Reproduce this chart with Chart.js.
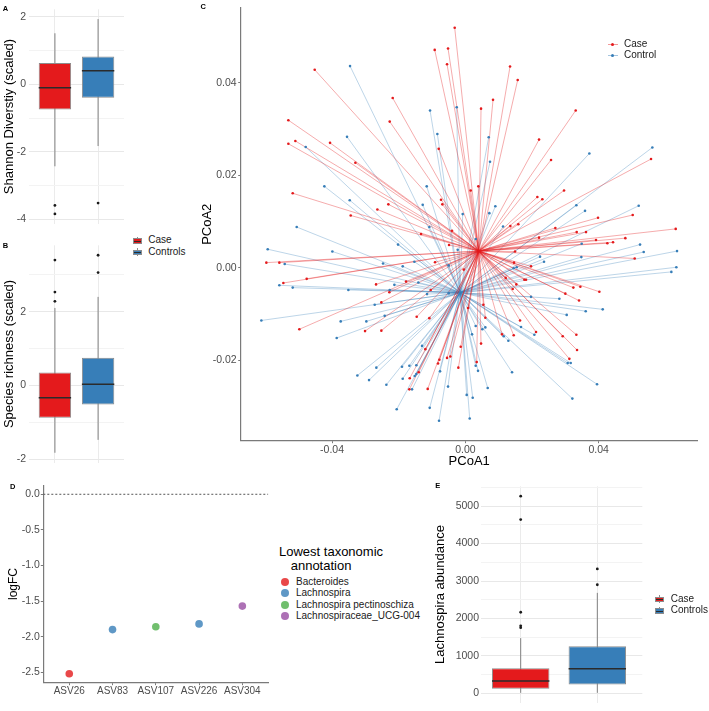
<!DOCTYPE html>
<html>
<head>
<meta charset="utf-8">
<title>Diversity, PCoA and differential abundance</title>
<script src="https://cdn.jsdelivr.net/npm/chart.js@4.4.1/dist/chart.umd.min.js"></script>
<style>
  html, body { margin: 0; padding: 0; background: #fff; }
  #fig { position: relative; width: 709px; height: 711px; overflow: hidden; font-family: "Liberation Sans", Arial, sans-serif; }
  #fig canvas { position: absolute; }
  .tag { position: absolute; font-size: 7.5px; line-height: 7.5px; font-weight: bold; color: #000; }
  .lg { position: absolute; font-size: 10px; line-height: 10px; color: #1a1a1a; white-space: nowrap; }
  .lgt { position: absolute; font-size: 13px; line-height: 13px; color: #000; white-space: nowrap; }
  .k { position: absolute; }
</style>
</head>
<body>
<div id="fig">
  <canvas id="chartA"></canvas>
  <canvas id="chartB"></canvas>
  <canvas id="chartC"></canvas>
  <canvas id="chartD"></canvas>
  <canvas id="chartE"></canvas>
</div>
<script>
// ---- data ----
const groups = ['Case', 'Controls'];
const pcoaGroups = ['Case', 'Control'];

// box stats: [lower whisker, Q1, median, Q3, upper whisker]
const shannonStats = [[-2.43, -0.75, -0.10, 0.63, 1.51], [-1.83, -0.40, 0.40, 0.82, 1.93]];
const shannonOutliers = [[-3.59, -3.84], [-3.52]];
const shannonTicks = [-4, -3, -2, -1, 0, 1, 2];
const shannonLabelled = [-4, -2, 0, 2];

const richnessStats = [[-1.83, -0.88, -0.34, 0.35, 2.10], [-1.48, -0.52, 0.03, 0.75, 2.40]];
const richnessOutliers = [[3.40, 2.53, 2.28], [3.53, 3.06]];
const richnessTicks = [-2, -1, 0, 1, 2, 3];
const richnessLabelled = [-2, 0, 2];

const lachnoStats = [[15, 127, 329, 673, 1476], [15, 235, 658, 1256, 2684]];
const lachnoOutliers = [[5266, 4641, 2167, 1805, 1754], [3324, 2901]];
const lachnoTicks = [0, 500, 1000, 1500, 2000, 2500, 3000, 3500, 4000, 4500, 5000, 5500];
const lachnoLabelled = [0, 1000, 2000, 3000, 4000, 5000];

const asvNames = ['ASV26', 'ASV83', 'ASV107', 'ASV226', 'ASV304'];
const asvLogFC = [-2.52, -1.90, -1.86, -1.82, -1.57];
const asvTaxon = ['Bacteroides', 'Lachnospira', 'Lachnospira pectinoschiza', 'Lachnospira', 'Lachnospiraceae_UCG-004'];
const taxa = ['Bacteroides', 'Lachnospira', 'Lachnospira pectinoschiza', 'Lachnospiraceae_UCG-004'];
const logFCTicks = [-2.5, -2.0, -1.5, -1.0, -0.5, 0.0];
const logFCRef = 0;

const pcoaXTicks = [-0.04, 0, 0.04];
const pcoaYTicks = [-0.02, 0, 0.02, 0.04];
const caseCentroid = [0.0040, 0.0036];
const controlCentroid = [-0.0016, -0.0054];

const casePCoA1 = [-0.0032,-0.0092,-0.0052,-0.0055,-0.0452,-0.0218,-0.0531,-0.0227,-0.0531,-0.0510,-0.0406,-0.0080,
  0.0134,0.0157,0.0083,0.0047,0.0331,0.0221,0.0557,0.0296,0.0216,0.0231,-0.0518,0.0016,0.0039,-0.0073,-0.0330,
  -0.0231,-0.0264,-0.0344,-0.0069,-0.0040,-0.0133,-0.0049,-0.0597,-0.0558,-0.0091,-0.0476,-0.0546,-0.0178,-0.0268,
  -0.0104,-0.0228,-0.0005,0.0257,0.0398,0.0502,0.0159,0.0135,0.0270,0.0334,0.0362,0.0631,0.0480,0.0392,0.0426,
  0.0443,0.0221,0.0508,0.0149,0.0146,0.0197,0.0121,0.0177,0.0182,0.0153,0.0142,0.0324,0.0345,0.0402,0.0300,0.0341,
  -0.0252,-0.0498,-0.0301,-0.0252,-0.0146,-0.0108,0.0008,-0.0014,-0.0120,-0.0055,-0.0045,-0.0078,-0.0082,-0.0021,
  -0.0140,-0.0167,-0.0168,-0.0113,0.0054,0.0060,0.0164,0.0212,0.0110,0.0145,0.0292,0.0333,0.0047,0.0335,0.0312,0.0034];
const casePCoA2 = [0.0519,0.0471,0.0474,0.0440,0.0428,0.0367,0.0319,0.0316,0.0268,0.0274,0.0270,0.0257,
  0.0435,0.0406,0.0363,0.0344,0.0340,0.0277,0.0235,0.0167,0.0153,0.0148,0.0161,0.0167,0.0176,0.0147,0.0227,
  0.0137,0.0126,0.0113,0.0137,0.0080,0.0073,0.0049,0.0011,0.0011,0.0012,-0.0024,-0.0033,-0.0030,-0.0036,
  -0.0048,-0.0053,-0.0004,0.0233,0.0108,0.0114,0.0094,0.0090,0.0086,0.0077,0.0077,0.0084,0.0064,0.0060,0.0053,
  0.0055,0.0065,0.0020,0.0035,0.0011,0.0003,-0.0022,-0.0026,-0.0026,-0.0036,-0.0046,-0.0043,-0.0041,-0.0052,-0.0056,-0.0071,
  -0.0075,-0.0133,-0.0137,-0.0136,-0.0106,-0.0109,-0.0087,-0.0171,-0.0176,-0.0195,-0.0192,-0.0199,-0.0207,-0.0216,
  -0.0226,-0.0239,-0.0263,-0.0262,-0.0080,-0.0108,-0.0114,-0.0139,-0.0144,-0.0146,-0.0148,-0.0145,-0.0164,-0.0178,-0.0197,-0.0204];

const controlPCoA1 = [-0.0346,-0.0106,-0.0026,-0.0084,-0.0355,-0.0479,0.0070,0.0372,0.0561,-0.0423,-0.0347,-0.0116,
  0.0074,-0.0128,-0.0506,-0.0108,-0.0008,-0.0202,-0.0023,-0.0593,-0.0399,-0.0542,-0.0247,-0.0188,-0.0153,-0.0050,
  -0.0558,-0.0518,-0.0351,-0.0213,-0.0141,-0.0115,-0.0227,-0.0050,0.0090,0.0072,0.0333,0.0359,0.0520,0.0113,0.0031,
  0.0349,0.0524,0.0535,0.0635,0.0224,0.0236,0.0348,0.0145,0.0154,0.0633,0.0618,0.0197,0.0282,-0.0272,-0.0612,
  -0.0374,-0.0297,-0.0242,-0.0386,-0.0130,-0.0324,-0.0289,-0.0267,-0.0190,-0.0168,-0.0147,-0.0076,-0.0147,-0.0152,
  -0.0188,-0.0237,-0.0160,-0.0052,-0.0206,-0.0107,-0.0079,0.0004,0.0013,0.0412,0.0361,0.0304,0.0031,0.0060,0.0051,
  0.0020,0.0167,0.0207,0.0115,0.0129,0.0307,0.0316,0.0031,0.0038,0.0140,0.0395,0.0067,0.0321,0.0022];
const controlPCoA2 = [0.0436,0.0340,0.0347,0.0289,0.0283,0.0261,0.0282,0.0247,0.0260,0.0176,0.0146,0.0176,
  0.0229,0.0136,0.0088,0.0088,0.0116,0.0050,0.0039,0.0040,0.0035,0.0008,0.0009,0.0003,0.0013,0.0005,
  -0.0038,-0.0043,-0.0048,-0.0037,-0.0032,-0.0057,-0.0048,-0.0055,0.0133,0.0118,0.0135,0.0123,0.0134,0.0089,0.0062,
  0.0052,0.0050,0.0034,0.0036,0.0024,0.0013,0.0023,-0.0001,0.0001,0.0001,-0.0009,-0.0063,-0.0067,-0.0080,-0.0114,
  -0.0116,-0.0116,-0.0104,-0.0152,-0.0169,-0.0233,-0.0243,-0.0216,-0.0214,-0.0212,-0.0211,-0.0224,-0.0230,-0.0234,
  -0.0240,-0.0253,-0.0263,-0.0257,-0.0306,-0.0303,-0.0331,-0.0275,-0.0326,-0.0090,-0.0094,-0.0102,-0.0126,-0.0129,-0.0133,
  -0.0144,-0.0128,-0.0145,-0.0148,-0.0158,-0.0206,-0.0206,-0.0212,-0.0223,-0.0226,-0.0252,-0.0260,-0.0283,-0.0281];

// ---- styling ----
const RED = '#e41a1c', BLUE = '#377eb8';
const GROUP_COLORS = [RED, BLUE];
const TAXA_COLORS = ['rgba(228,26,28,0.8)', 'rgba(55,126,184,0.8)', 'rgba(77,175,74,0.8)', 'rgba(152,78,163,0.8)'];
const FONT = 'Liberation Sans';
const TICK_FONT = {family: FONT, size: 10.5};
const TITLE_FONT = {family: FONT, size: 13};
const TICK_COL = '#4d4d4d';
const AXIS_COL = '#7a7a7a';

function place(id, left, top, w, h) {
  const cv = document.getElementById(id);
  cv.width = w; cv.height = h;
  Object.assign(cv.style, {left: left + 'px', top: top + 'px', width: w + 'px', height: h + 'px'});
  return cv;
}

function fixedTicks(values) {
  return scale => { scale.ticks = values.map(v => ({value: v})); };
}

const baseOptions = pad => ({
  responsive: false, animation: false, events: [],
  layout: {autoPadding: false, padding: {top: pad.top, right: pad.right, bottom: 0, left: 0}},
  plugins: {legend: {display: false}, tooltip: {enabled: false}}
});

function boxChart(id, o) {
  const cv = place(id, o.left, o.top, o.width, o.height);
  const pos = o.stats.map((s, i) => i + 1);
  const datasets = [];
  o.stats.forEach((s, i) => {
    datasets.push({type: 'line', data: [{x: pos[i], y: s[0]}, {x: pos[i], y: s[4]}],
      borderColor: '#808080', borderWidth: 1, pointRadius: 0, order: 3});
  });
  datasets.push({type: 'bar', data: o.stats.map((s, i) => ({x: pos[i], y: [s[1], s[3]]})),
    backgroundColor: GROUP_COLORS, borderColor: '#8c8c8c', borderWidth: 1, borderSkipped: false,
    barPercentage: 0.75, categoryPercentage: 1, order: 2});
  datasets.push({type: 'scatter', data: o.stats.map((s, i) => ({x: pos[i], y: s[2]})),
    pointStyle: 'line', pointRadius: o.half, pointBorderColor: '#2b2b2b', pointBorderWidth: 1.5, order: 1});
  datasets.push({type: 'scatter', data: o.outliers.flatMap((arr, i) => arr.map(v => ({x: pos[i], y: v}))),
    pointRadius: 1.4, pointBackgroundColor: '#1a1a1a', pointBorderWidth: 0, order: 0});

  const options = baseOptions({top: o.padTop, right: o.padRight});
  options.scales = {
    x: {type: 'linear', min: o.xMin, max: o.xMax, offset: false,
      afterBuildTicks: fixedTicks(pos), afterFit: s => { s.height = o.xh; },
      ticks: {display: false}, border: {display: false},
      grid: {color: '#ebebeb', drawTicks: false, offset: false}},
    y: {type: 'linear', min: o.yMin, max: o.yMax, beginAtZero: false,
      afterBuildTicks: fixedTicks(o.ticks), afterFit: s => { s.width = o.yw; },
      ticks: {font: TICK_FONT, color: TICK_COL, padding: o.tickPad, autoSkip: false,
        callback: v => o.labelled.includes(v) ? String(v) : ''},
      border: {display: false},
      grid: {drawTicks: false, color: c => o.labelled.includes(c.tick.value) ? '#e8e8e8' : '#f3f3f3'},
      title: {display: true, text: o.title, font: TITLE_FONT, color: '#000', padding: {top: o.titlePad, bottom: 0}}}
  };
  new Chart(cv, {type: 'bar', data: {datasets}, options});
}

// Panel A
boxChart('chartA', {left: 0, top: 0, width: 126, height: 233, yw: 29, xh: 1.6, padTop: 2.8, padRight: 2,
  xMin: 0.4, xMax: 2.6, yMin: -4.13, yMax: 2.22, half: 16.2, tickPad: 3, titlePad: 1.2,
  stats: shannonStats, outliers: shannonOutliers, ticks: shannonTicks, labelled: shannonLabelled,
  title: 'Shannon Diverstiy (scaled)'});

// Panel B
boxChart('chartB', {left: 0, top: 236, width: 126, height: 236, yw: 29, xh: 4, padTop: 4.3, padRight: 2,
  xMin: 0.4, xMax: 2.6, yMin: -2.1, yMax: 3.8, half: 16.2, tickPad: 3, titlePad: 1.2,
  stats: richnessStats, outliers: richnessOutliers, ticks: richnessTicks, labelled: richnessLabelled,
  title: 'Species richness (scaled)'});

// Panel E
boxChart('chartE', {left: 430, top: 478, width: 279, height: 233, yw: 51, xh: 2, padTop: 3, padRight: 66.7,
  xMin: 0.482, xMax: 2.587, yMin: -248, yMax: 5529, half: 28.7, tickPad: 2, titlePad: 2.2,
  stats: lachnoStats, outliers: lachnoOutliers, ticks: lachnoTicks, labelled: lachnoLabelled,
  title: 'Lachnospira abundance'});

// Panel C: PCoA with spokes to group centroids
(function () {
  const cv = place('chartC', 195, 0, 514, 472);
  const ds = [];
  const spoke = (c, x, y, color, order) => ({type: 'line', data: [{x: c[0], y: c[1]}, {x, y}],
    borderColor: color, borderWidth: 1, pointRadius: 0, order});
  controlPCoA1.forEach((x, i) => ds.push(spoke(controlCentroid, x, controlPCoA2[i], 'rgba(55,126,184,0.33)', 4)));
  casePCoA1.forEach((x, i) => ds.push(spoke(caseCentroid, x, casePCoA2[i], 'rgba(228,26,28,0.36)', 3)));
  ds.push({type: 'scatter', data: controlPCoA1.map((x, i) => ({x, y: controlPCoA2[i]})),
    pointRadius: 1.3, pointBackgroundColor: BLUE, pointBorderWidth: 0, order: 1});
  ds.push({type: 'scatter', data: casePCoA1.map((x, i) => ({x, y: casePCoA2[i]})),
    pointRadius: 1.3, pointBackgroundColor: RED, pointBorderWidth: 0, order: 0});

  const axisGrid = {display: true, drawOnChartArea: false, drawTicks: true, tickLength: 2.5, color: AXIS_COL};
  const options = baseOptions({top: 1.2, right: 11.3});
  options.scales = {
    x: {type: 'linear', min: -0.0674, max: 0.0697,
      afterBuildTicks: fixedTicks(pcoaXTicks), afterFit: s => { s.height = 31.3; },
      ticks: {font: TICK_FONT, color: TICK_COL, padding: 0.5, callback: v => v.toFixed(2)},
      grid: axisGrid, border: {display: true, color: AXIS_COL, width: 1.2},
      title: {display: true, text: 'PCoA1', font: TITLE_FONT, color: '#000', padding: {top: 0, bottom: 3.2}}},
    y: {type: 'linear', min: -0.0374, max: 0.0562,
      afterBuildTicks: fixedTicks(pcoaYTicks), afterFit: s => { s.width = 45.7; },
      ticks: {font: TICK_FONT, color: TICK_COL, padding: 1.5, callback: v => v.toFixed(2)},
      grid: axisGrid, border: {display: true, color: AXIS_COL, width: 1.2},
      title: {display: true, text: 'PCoA2', font: TITLE_FONT, color: '#000', padding: {top: 4.2, bottom: 0}}}
  };
  new Chart(cv, {type: 'scatter', data: {datasets: ds}, options});
})();

// Panel D: logFC per ASV
(function () {
  const cv = place('chartD', 0, 478, 275, 233);
  const xs = asvNames.map((n, i) => i + 1);
  const ds = [
    {type: 'scatter', data: xs.map((x, i) => ({x, y: asvLogFC[i]})), pointRadius: 3.8,
      pointBackgroundColor: asvTaxon.map(t => TAXA_COLORS[taxa.indexOf(t)]), pointBorderWidth: 0, order: 0},
    {type: 'line', data: [{x: 0.4, y: logFCRef}, {x: 5.6, y: logFCRef}], borderColor: '#555',
      borderWidth: 1, borderDash: [2, 2], pointRadius: 0, order: 1}
  ];
  const axisGrid = {display: true, drawOnChartArea: false, drawTicks: true, tickLength: 2.5, color: AXIS_COL};
  const options = baseOptions({top: 3.5, right: 6.7});
  options.scales = {
    x: {type: 'linear', min: 0.4, max: 5.6,
      afterBuildTicks: fixedTicks(xs), afterFit: s => { s.height = 28.3; },
      ticks: {font: {family: FONT, size: 10}, color: TICK_COL, padding: 0.5, autoSkip: false,
        callback: v => asvNames[v - 1]},
      grid: axisGrid, border: {display: true, color: AXIS_COL, width: 1.2}},
    y: {type: 'linear', min: -2.646, max: 0.126,
      afterBuildTicks: fixedTicks(logFCTicks), afterFit: s => { s.width = 43.3; },
      ticks: {font: TICK_FONT, color: TICK_COL, padding: 1, autoSkip: false, callback: v => v.toFixed(1)},
      grid: axisGrid, border: {display: true, color: AXIS_COL, width: 1.2},
      title: {display: true, text: 'logFC', font: {family: FONT, size: 12}, color: '#000', padding: {top: 6.1, bottom: 0}}}
  };
  new Chart(cv, {type: 'scatter', data: {datasets: ds}, options});
})();

// ---- legends and panel tags (HTML text) ----
const fig = document.getElementById('fig');
function add(cls, left, top, html, extra) {
  const d = document.createElement('div');
  d.className = cls;
  d.style.left = left + 'px'; d.style.top = top + 'px';
  if (extra) Object.assign(d.style, extra);
  d.innerHTML = html || '';
  fig.appendChild(d);
  return d;
}
function boxKey(left, cy, color) {
  add('k', left + 4, cy - 3.8, '', {width: '1px', height: '1.5px', background: '#8c8c8c'});
  add('k', left + 4, cy + 2.3, '', {width: '1px', height: '1.5px', background: '#8c8c8c'});
  add('k', left, cy - 2.3, '', {width: '7px', height: '2.6px', background: color, border: '1px solid #8c8c8c', borderBottom: 'none'});
  add('k', left, cy + 0.3, '', {width: '7px', height: '1px', background: '#2b2b2b', borderLeft: '1px solid #8c8c8c', borderRight: '1px solid #8c8c8c'});
  add('k', left, cy + 1.3, '', {width: '7px', height: '1px', background: color, border: '1px solid #8c8c8c', borderTop: 'none'});
}
function boxLegend(left, textLeft, ys) {
  groups.forEach((g, i) => {
    boxKey(left, ys[i], GROUP_COLORS[i]);
    add('lg', textLeft, ys[i] - 5, g);
  });
}
boxLegend(132.7, 148.3, [240.3, 252]);
boxLegend(655, 670.7, [599, 610.3]);

pcoaGroups.forEach((g, i) => {
  const cy = [44, 55][i];
  add('k', 607.5, cy - 0.5, '', {width: '10px', height: '1px', background: i ? 'rgba(55,126,184,0.45)' : 'rgba(228,26,28,0.45)'});
  add('k', 611, cy - 1.5, '', {width: '3px', height: '3px', borderRadius: '50%', background: GROUP_COLORS[i]});
  add('lg', 624, cy - 5, g);
});

add('lgt', 279, 544.5, 'Lowest taxonomic');
add('lgt', 290.7, 558.8, 'annotation');
taxa.forEach((t, i) => {
  const cy = [581.7, 593.3, 604.7, 615.9][i];
  add('k', 281, cy - 4, '', {width: '8px', height: '8px', borderRadius: '50%', background: TAXA_COLORS[i]});
  add('lg', 296, cy - 5, t);
});

[['A', 2.7, 5], ['B', 2.7, 241.7], ['C', 200.5, 3], ['D', 10, 483], ['E', 435.3, 481.7]]
  .forEach(([t, x, y]) => add('tag', x, y, t));
</script>
</body>
</html>
